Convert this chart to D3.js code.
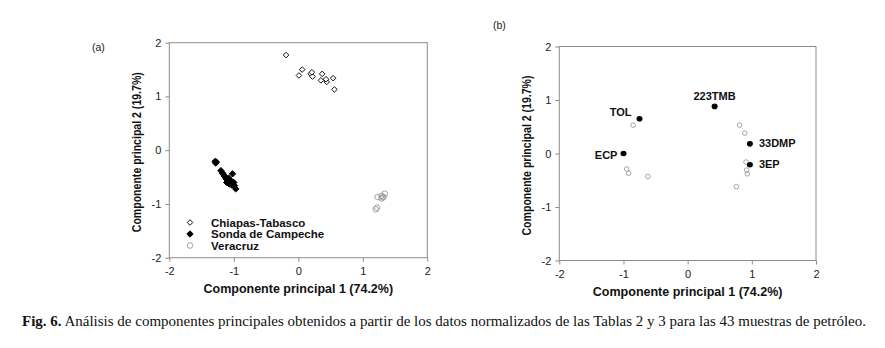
<!DOCTYPE html>
<html>
<head>
<meta charset="utf-8">
<script src="https://cdn.jsdelivr.net/npm/d3@7"></script>
<style>
  body { margin: 0; background: #fff; }
  svg { display: block; }
  text { font-family: "Liberation Sans", Arial, sans-serif; }
</style>
</head>
<body>
<svg id="Fig6" width="885" height="348"></svg>
<script>
// ticks shared by both panels
const axisTicks = [-2, -1, 0, 1, 2];

// panel (a): sample scores [PC1, PC2]
const chiapasTabasco = [
  [-0.19, 1.77], [0.06, 1.50], [0.01, 1.39], [0.19, 1.42], [0.22, 1.37], [0.21, 1.45],
  [0.37, 1.42], [0.35, 1.30], [0.44, 1.27], [0.43, 1.32], [0.54, 1.34], [0.56, 1.13]
];
const sondaCampeche = [
  [-1.29, -0.21], [-1.28, -0.24], [-1.27, -0.22], [-1.20, -0.38], [-1.18, -0.42],
  [-1.16, -0.45], [-1.15, -0.48], [-1.13, -0.50], [-1.12, -0.53], [-1.10, -0.55],
  [-1.09, -0.58], [-1.08, -0.52], [-1.06, -0.60], [-1.05, -0.56], [-1.04, -0.62],
  [-1.02, -0.44], [-1.03, -0.65], [-1.00, -0.60], [-0.99, -0.66], [-0.97, -0.72],
  [-1.07, -0.63], [-1.11, -0.60]
];
const veracruz = [
  [1.23, -0.87], [1.29, -0.85], [1.32, -0.87], [1.34, -0.81], [1.29, -0.90],
  [1.31, -0.88], [1.20, -1.10], [1.22, -1.07]
];
const legendNames = ["Chiapas-Tabasco", "Sonda de Campeche", "Veracruz"];

// panel (b): loadings of the compounds
const loadingNames = ["TOL", "ECP", "223TMB", "33DMP", "3EP"];
const loadingX = [-0.75, -1.00, 0.42, 0.97, 0.97];
const loadingY = [0.65, 0.00, 0.88, 0.18, -0.21];
// panel (b): grey open circles
const otherScores = [
  [-0.85, 0.53], [-0.95, -0.29], [-0.92, -0.37], [-0.62, -0.43],
  [0.81, 0.53], [0.89, 0.38], [0.91, -0.16], [0.92, -0.31], [0.93, -0.38], [0.76, -0.62]
];

const xTitle = "Componente principal 1 (74.2%)";
const yTitle = "Componente principal 2 (19.7%)";

let store = {};
let svg = d3.select("#Fig6");

function getPanelConfig(left, right, top, bottom, tag, tagX, tagY) {
  let x = d3.scaleLinear().domain([-2, 2]).range([left, right]);
  let y = d3.scaleLinear().domain([-2, 2]).range([bottom, top]);
  return { left, right, top, bottom, x, y, tag, tagX, tagY };
}

function drawFrame(p) {
  let g = svg.append("g");

  g.append("rect")
    .attr("x", p.left).attr("y", p.top)
    .attr("width", p.right - p.left).attr("height", p.bottom - p.top)
    .attr("fill", "none").attr("stroke", "#8c8c8c").attr("stroke-width", 1);

  let fmt = d => String(d);
  let axisX = d3.axisBottom(p.x).tickValues(axisTicks).tickFormat(fmt).tickSize(4).tickPadding(6);
  let gX = g.append("g").attr("transform", `translate(0,${p.bottom})`).call(axisX);

  let axisY = d3.axisLeft(p.y).tickValues(axisTicks).tickFormat(fmt).tickSize(4).tickPadding(4);
  let gY = g.append("g").attr("transform", `translate(${p.left},0)`).call(axisY);

  [gX, gY].forEach(a => {
    a.select(".domain").remove();
    a.selectAll(".tick line").attr("stroke", "#8c8c8c");
    a.selectAll(".tick text")
      .attr("fill", "#222")
      .style("font-size", "11px")
      .style("font-family", "'Liberation Sans', Arial, sans-serif");
  });

  let cx = (p.left + p.right) / 2;
  g.append("text")
    .attr("x", cx).attr("y", p.bottom + 35)
    .attr("text-anchor", "middle")
    .style("font-size", "12.5px").style("font-weight", "bold")
    .attr("fill", "#111")
    .text(xTitle);

  let cy = (p.top + p.bottom) / 2;
  g.append("text")
    .attr("transform", `translate(${p.left - 28},${cy + 2}) rotate(-90)`)
    .attr("text-anchor", "middle")
    .attr("textLength", 160).attr("lengthAdjust", "spacingAndGlyphs")
    .style("font-size", "12.5px").style("font-weight", "bold")
    .attr("fill", "#111")
    .text(yTitle);

  g.append("text")
    .attr("x", p.tagX).attr("y", p.tagY)
    .style("font-size", "10.5px")
    .attr("fill", "#222")
    .text(p.tag);
}

let diamond = d3.symbol().type(d3.symbolDiamond2).size(20);
let bigDiamond = d3.symbol().type(d3.symbolDiamond2).size(26);

function drawScores(p) {
  let body = svg.append("g");

  body.selectAll(".vera").data(veracruz).enter()
    .append("circle")
    .attr("cx", d => p.x(d[0])).attr("cy", d => p.y(d[1]))
    .attr("r", 2.8)
    .attr("fill", "none").attr("stroke", "#9a9a9a").attr("stroke-width", 0.9);

  body.selectAll(".chis").data(chiapasTabasco).enter()
    .append("path")
    .attr("d", diamond)
    .attr("transform", d => `translate(${p.x(d[0])},${p.y(d[1])})`)
    .attr("fill", "#fff").attr("stroke", "#111").attr("stroke-width", 1);

  body.selectAll(".sonda").data(sondaCampeche).enter()
    .append("path")
    .attr("d", bigDiamond)
    .attr("transform", d => `translate(${p.x(d[0])},${p.y(d[1])})`)
    .attr("fill", "#000").attr("stroke", "#000").attr("stroke-width", 1);

  // legend
  let lg = svg.append("g").attr("transform", "translate(190,222.5)");
  legendNames.forEach((name, i) => {
    let row = lg.append("g").attr("transform", `translate(0,${i * 11.5})`);
    if (i === 2) {
      row.append("circle").attr("r", 2.8)
        .attr("fill", "none").attr("stroke", "#9a9a9a").attr("stroke-width", 0.9);
    } else {
      row.append("path").attr("d", i === 0 ? diamond : bigDiamond)
        .attr("fill", i === 0 ? "#fff" : "#000")
        .attr("stroke", i === 0 ? "#111" : "#000");
    }
    row.append("text")
      .attr("x", 21).attr("y", 4)
      .style("font-size", "11.5px").style("font-weight", "bold")
      .attr("fill", "#111")
      .text(name);
  });
}

function drawLoadings(p) {
  let body = svg.append("g");

  body.selectAll(".other").data(otherScores).enter()
    .append("circle")
    .attr("cx", d => p.x(d[0])).attr("cy", d => p.y(d[1]))
    .attr("r", 2.3)
    .attr("fill", "none").attr("stroke", "#9a9a9a").attr("stroke-width", 0.9);

  let loadings = loadingNames.map((n, i) => ({ name: n, x: loadingX[i], y: loadingY[i] }));

  body.selectAll(".load").data(loadings).enter()
    .append("ellipse")
    .attr("cx", d => p.x(d.x)).attr("cy", d => p.y(d.y))
    .attr("rx", 3).attr("ry", 2.8)
    .attr("fill", "#000");

  let place = {
    "TOL":    { anchor: "end",    dx: -8, dy: -2.5 },
    "ECP":    { anchor: "end",    dx: -6, dy: 5 },
    "223TMB": { anchor: "middle", dx: 0,  dy: -6 },
    "33DMP":  { anchor: "start",  dx: 9,  dy: 3.5 },
    "3EP":    { anchor: "start",  dx: 9,  dy: 3.5 }
  };

  body.selectAll(".lab").data(loadings).enter()
    .append("text")
    .attr("x", d => p.x(d.x) + place[d.name].dx)
    .attr("y", d => p.y(d.y) + place[d.name].dy)
    .attr("text-anchor", d => place[d.name].anchor)
    .style("font-size", "11px").style("font-weight", "bold")
    .attr("fill", "#111")
    .text(d => d.name);
}

function drawCaption() {
  let t = svg.append("text")
    .attr("x", 22).attr("y", 326)
    .attr("textLength", 844).attr("lengthAdjust", "spacingAndGlyphs")
    .style("font-family", "'Liberation Serif', 'Times New Roman', serif")
    .style("font-size", "15px")
    .attr("fill", "#111");
  t.append("tspan").style("font-weight", "bold").text("Fig. 6.");
  t.append("tspan").text(" Análisis de componentes principales obtenidos a partir de los datos normalizados de las Tablas 2 y 3 para las 43 muestras de petróleo.");
}

function showData() {
  store.panelA = getPanelConfig(169.3, 427.3, 42.7, 257.7, "(a)", 92, 51);
  store.panelB = getPanelConfig(559.3, 816, 46.5, 260.5, "(b)", 493, 29);
  drawFrame(store.panelA);
  drawFrame(store.panelB);
  drawScores(store.panelA);
  drawLoadings(store.panelB);
  drawCaption();
}

showData();
</script>
</body>
</html>
